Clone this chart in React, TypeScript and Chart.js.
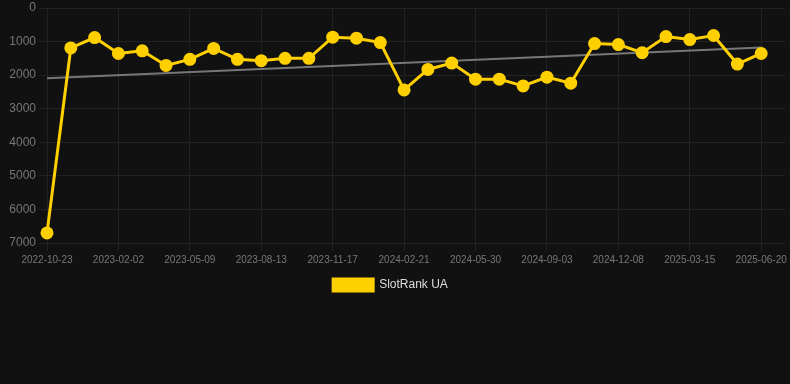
import React, { useEffect, useRef } from "react";
import { Chart, registerables } from "chart.js";

Chart.register(...registerables);

const labels: string[] = [
  "2022-10-23", "2022-11-26", "2022-12-30", "2023-02-02", "2023-03-06", "2023-04-07",
  "2023-05-09", "2023-06-10", "2023-07-12", "2023-08-13", "2023-09-14", "2023-10-16",
  "2023-11-17", "2023-12-19", "2024-01-20", "2024-02-21", "2024-03-25", "2024-04-27",
  "2024-05-30", "2024-07-01", "2024-08-02", "2024-09-03", "2024-10-05", "2024-11-06",
  "2024-12-08", "2025-01-09", "2025-02-11", "2025-03-15", "2025-04-17", "2025-05-19",
  "2025-06-20", "2025-07-22",
];

const rankValues: (number | null)[] = [
  6700, 1190, 880, 1355, 1275, 1710, 1530, 1205, 1530, 1570, 1500, 1500,
  870, 900, 1030, 2440, 1830, 1640, 2120, 2120, 2320, 2060, 2240, 1060,
  1090, 1330, 850, 940, 820, 1670, 1355, null,
];

const trendStart = 2095;
const trendEnd = 1180;
const trendValues: (number | null)[] = labels.map((_, i) =>
  i === 0 ? trendStart : i === 30 ? trendEnd : null
);

const yMin = 0;
const yMax = 7000;

const legendShift = {
  id: "legendShift",
  beforeDraw(chart: any) {
    const lg = chart.legend;
    if (lg && !lg._shifted) {
      lg.left -= 6;
      lg.right -= 6;
      lg._shifted = true;
    }
  },
};

export default function App() {
  const ref = useRef<HTMLCanvasElement | null>(null);

  useEffect(() => {
    document.body.style.margin = "0";
    document.body.style.background = "#111111";
    const ctx = ref.current!;
    const chart = new Chart(ctx, {
      type: "line",
      data: {
        labels,
        datasets: [
          {
            label: "SlotRank UA",
            data: rankValues,
            borderColor: "#FFD000",
            backgroundColor: "#FFD000",
            borderWidth: 3,
            pointRadius: 5,
            pointBackgroundColor: "#FFD000",
            pointBorderColor: "#FFD000",
            tension: 0,
          },
          {
            label: "trend",
            data: trendValues,
            borderColor: "#777777",
            backgroundColor: "#777777",
            borderWidth: 2,
            pointRadius: 0,
            spanGaps: true,
          },
        ],
      },
      plugins: [legendShift],
      options: {
        animation: false,
        responsive: false,
        maintainAspectRatio: false,
        layout: { padding: 0 },
        plugins: {
          legend: {
            position: "bottom",
            labels: {
              color: "#dddddd",
              font: { size: 12, family: "Liberation Sans, Arial, sans-serif" },
              boxWidth: 40,
              boxHeight: 12,
              filter: (item) => item.text !== "trend",
            },
          },
          tooltip: { enabled: false },
        },
        scales: {
          x: {
            type: "category",
            offset: false,
            grid: { color: "#222222", drawTicks: true },
            border: { display: false },
            ticks: {
              color: "#777777",
              font: { size: 10, family: "Liberation Sans, Arial, sans-serif" },
              maxRotation: 0,
              minRotation: 0,
              autoSkip: true,
              maxTicksLimit: 11,
            },
          },
          y: {
            reverse: true,
            min: yMin,
            max: yMax,
            grid: { color: "#222222" },
            border: { display: false },
            afterFit: (scale: any) => {
              scale.width = 47;
              scale.paddingTop = 6;
            },
            ticks: {
              stepSize: 1000,
              color: "#777777",
              font: { size: 12, family: "Liberation Sans, Arial, sans-serif" },
              callback: (v) => String(v),
            },
          },
        },
      },
    });
    return () => chart.destroy();
  }, []);

  return (
    <div style={{ width: 790, height: 384, background: "#111111", overflow: "hidden" }}>
      <canvas ref={ref} width={793} height={301} style={{ display: "block" }} />
    </div>
  );
}
